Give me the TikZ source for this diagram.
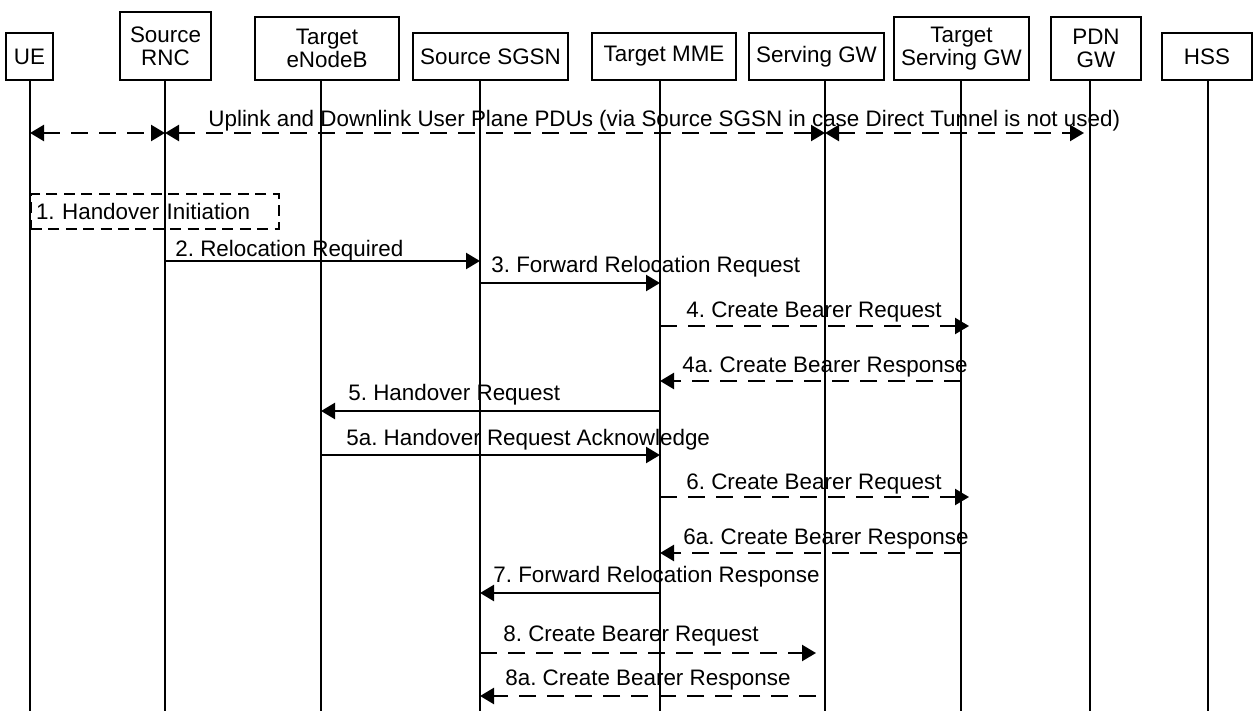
\documentclass[tikz,border=0pt]{standalone}
\usepackage{fontspec}
\setmainfont{Liberation Sans}
\usetikzlibrary{arrows.meta}
\frenchspacing

\begin{document}
\begin{tikzpicture}[
    x=0.5pt, y=-0.5pt,
    font=\fontsize{11.2pt}{11.7pt}\selectfont,
    entity/.style={draw, line width=1pt, align=center, inner sep=0pt},
    life/.style={line width=1pt},
    msg/.style={-{Triangle[length=7pt,width=8pt]}, line width=1.2pt},
    reply/.style={msg, dash pattern=on 8.5pt off 5.5pt},
    data/.style={reply, {Triangle[length=7pt,width=8pt]}-{Triangle[length=7pt,width=8pt]}},
    initbox/.style={draw, line width=1pt, dash pattern=on 5.5pt off 3.2pt, align=left, inner sep=2.5pt, text width=119pt, minimum height=17.5pt, anchor=north west},
    lbl/.style={anchor=base west, inner sep=0pt}
]
\useasboundingbox (0,0) rectangle (1253,711);

% entities
\node[entity, minimum width=23.5pt, minimum height=23.5pt] (ue) at (29.5,56.5) {UE};
\node[entity, minimum width=45.5pt, minimum height=34pt] (rnc) at (165.5,46) {Source\\RNC};
\node[entity, minimum width=72pt, minimum height=31.5pt] (enb) at (327,48.5) {Target\\eNodeB};
\node[entity, minimum width=77.5pt, minimum height=23.5pt] (sgsn) at (490.5,56.5) {Source SGSN};
\node[entity, minimum width=72pt, minimum height=23.5pt] (mme) at (664,56.5) {Target MME};
\node[entity, minimum width=67.5pt, minimum height=23.5pt] (sgw) at (816.5,56.5) {Serving GW};
\node[entity, minimum width=67.5pt, minimum height=31.5pt] (tsgw) at (961.5,48.5) {Target\\Serving GW};
\node[entity, minimum width=45pt, minimum height=31.5pt] (pgw) at (1096,48.5) {PDN\\GW};
\node[entity, minimum width=45pt, minimum height=23.5pt] (hss) at (1207,56.5) {HSS};

% lifelines
\foreach \n/\x in {ue/30,rnc/165,enb/321,sgsn/480,mme/660,sgw/825,tsgw/961,pgw/1090,hss/1208}{
  \coordinate (\n-l) at (\x,80);
  \draw[life] (\n-l) -- (\n-l |- 0,711);
}

% user plane
\node[lbl] (up) at (208,127) {Uplink and Downlink User Plane PDUs (via Source SGSN in case Direct Tunnel is not used)};
\draw[data] (ue-l |- 0,133) -- (rnc-l |- 0,133);
\draw[data] (rnc-l |- 0,133) -- (sgw-l |- 0,133);
\draw[data, shorten >=3pt] (sgw-l |- 0,133) -- (pgw-l |- 0,133);

\node[initbox] (init) at (30,193) {1. Handover Initiation};

% messages
\node[lbl] (m2) at (175,257) {2. Relocation Required};
\draw[msg] (rnc-l |- 0,261) -- (sgsn-l |- 0,261);

\node[lbl] (m3) at (491,273) {3. Forward Relocation Request};
\draw[msg] (sgsn-l |- 0,283) -- (mme-l |- 0,283);

\node[lbl] (m4) at (686,318) {4. Create Bearer Request};
\draw[reply, shorten >=-4pt] (mme-l |- 0,326) -- (tsgw-l |- 0,326);

\node[lbl] (m4a) at (682,372) {4a. Create Bearer Response};
\draw[reply] (tsgw-l |- 0,381) -- (mme-l |- 0,381);

\node[lbl] (m5) at (348,400) {5. Handover Request};
\draw[msg] (mme-l |- 0,411) -- (enb-l |- 0,411);

\node[lbl] (m5a) at (346,445) {5a. Handover Request Acknowledge};
\draw[msg] (enb-l |- 0,455) -- (mme-l |- 0,455);

\node[lbl] (m6) at (686,489) {6. Create Bearer Request};
\draw[reply, shorten >=-4pt] (mme-l |- 0,497) -- (tsgw-l |- 0,497);

\node[lbl] (m6a) at (683,544) {6a. Create Bearer Response};
\draw[reply] (tsgw-l |- 0,553) -- (mme-l |- 0,553);

\node[lbl] (m7) at (493,582) {7. Forward Relocation Response};
\draw[msg] (mme-l |- 0,593) -- (sgsn-l |- 0,593);

\node[lbl] (m8) at (503,641) {8. Create Bearer Request};
\draw[reply, shorten >=4.5pt] (sgsn-l |- 0,653) -- (sgw-l |- 0,653);

\node[lbl] (m8a) at (505,685) {8a. Create Bearer Response};
\draw[reply, shorten <=4.5pt] (sgw-l |- 0,696) -- (sgsn-l |- 0,696);

\end{tikzpicture}
\end{document}
